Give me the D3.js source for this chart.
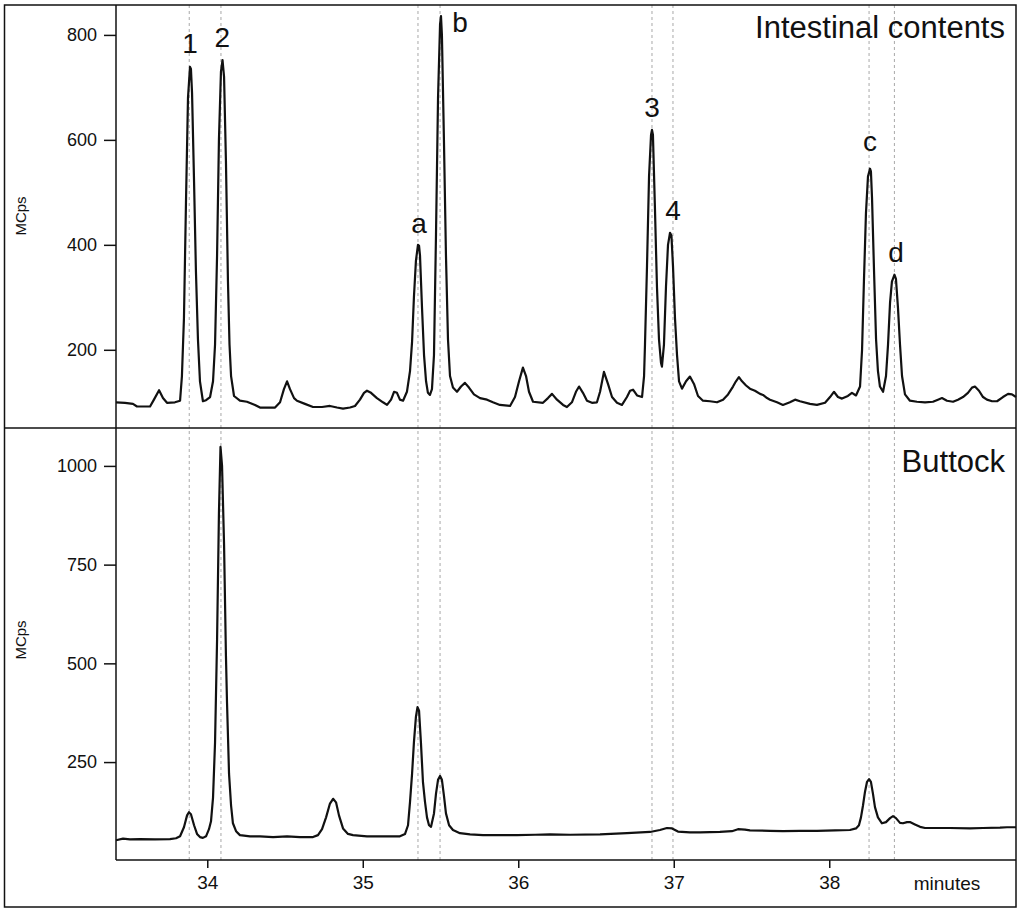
<html>
    <head>
        <title>Chromatograms</title>
        <script src="https://d3js.org/d3.v7.min.js"></script>
        <style>
            body {
                margin: 0;
                padding: 0;
                background: white;
            }
            text {
                font-family: "Liberation Sans", Arial, sans-serif;
                fill: #111;
            }
        </style>
    </head>
    <body>
        <svg id="chart" width="1018" height="909"></svg>
    </body>
    <script>
        // [minutes, MCps]
        const intestinalTrace = [
            [33.413,100],[33.471,99],[33.522,97],[33.548,92],[33.632,92],[33.657,105],[33.690,123],[33.715,108],
            [33.741,99],[33.792,100],[33.825,103],[33.837,150],[33.850,260],[33.863,480],[33.876,680],[33.889,739],
            [33.895,735],[33.902,690],[33.915,520],[33.927,350],[33.940,220],[33.953,140],[33.972,102],[33.992,104],
            [34.018,110],[34.037,140],[34.050,210],[34.063,380],[34.075,600],[34.088,730],[34.098,752],[34.108,720],
            [34.120,560],[34.133,330],[34.143,210],[34.153,150],[34.172,112],[34.210,103],[34.255,101],[34.307,95],
            [34.339,90],[34.436,90],[34.468,100],[34.493,125],[34.513,140],[34.532,125],[34.558,108],[34.577,103],
            [34.628,97],[34.680,91],[34.738,91],[34.789,93],[34.834,90],[34.873,88],[34.918,90],[34.950,93],
            [34.982,105],[35.008,118],[35.027,122],[35.053,118],[35.091,108],[35.130,100],[35.156,95],[35.182,105],
            [35.201,120],[35.220,118],[35.239,105],[35.259,103],[35.284,120],[35.304,160],[35.317,215],[35.329,300],
            [35.342,370],[35.355,400],[35.362,398],[35.368,380],[35.381,280],[35.394,190],[35.407,140],[35.419,118],
            [35.432,114],[35.445,125],[35.458,190],[35.471,420],[35.484,680],[35.497,820],[35.503,836],[35.509,800],
            [35.522,600],[35.535,380],[35.548,220],[35.561,150],[35.580,128],[35.606,120],[35.632,130],[35.657,137],
            [35.683,128],[35.715,115],[35.754,108],[35.799,105],[35.837,100],[35.882,95],[35.947,93],[35.979,110],
            [36.005,140],[36.030,166],[36.050,150],[36.069,120],[36.095,101],[36.159,99],[36.191,108],[36.217,116],
            [36.249,105],[36.288,95],[36.313,91],[36.345,100],[36.371,120],[36.391,130],[36.416,118],[36.442,103],
            [36.474,99],[36.506,100],[36.526,120],[36.551,158],[36.577,135],[36.603,110],[36.635,99],[36.667,95],
            [36.699,110],[36.719,122],[36.738,124],[36.764,113],[36.796,110],[36.809,150],[36.815,210],[36.828,360],
            [36.841,530],[36.854,610],[36.860,619],[36.866,610],[36.879,470],[36.892,320],[36.905,220],[36.918,175],
            [36.924,168],[36.937,210],[36.950,320],[36.963,400],[36.976,423],[36.985,418],[36.995,360],[37.008,260],
            [37.021,190],[37.034,140],[37.053,126],[37.079,140],[37.104,149],[37.130,135],[37.156,112],[37.188,103],
            [37.233,102],[37.278,100],[37.317,105],[37.349,115],[37.381,130],[37.400,140],[37.419,148],[37.439,140],
            [37.465,132],[37.490,126],[37.522,122],[37.555,116],[37.574,114],[37.600,108],[37.619,105],[37.664,100],
            [37.702,95],[37.747,100],[37.780,105],[37.812,102],[37.876,97],[37.921,95],[37.973,99],[38.005,110],
            [38.030,120],[38.056,110],[38.082,107],[38.120,112],[38.146,118],[38.172,113],[38.198,130],[38.211,200],
            [38.223,330],[38.236,460],[38.249,530],[38.262,545],[38.268,540],[38.275,490],[38.288,350],[38.301,220],
            [38.313,160],[38.326,130],[38.346,120],[38.365,150],[38.378,210],[38.391,290],[38.403,330],[38.419,343],
            [38.429,335],[38.442,280],[38.455,210],[38.468,150],[38.487,115],[38.519,103],[38.564,101],[38.616,100],
            [38.667,101],[38.699,105],[38.725,108],[38.757,103],[38.796,101],[38.828,105],[38.860,110],[38.892,118],
            [38.918,128],[38.937,130],[38.963,122],[38.989,110],[39.014,105],[39.047,102],[39.079,102],[39.117,110],
            [39.150,116],[39.175,115],[39.201,110]
        ];

        const buttockTrace = [
            [33.413,52],[33.458,56],[33.503,54],[33.567,55],[33.664,54],[33.760,55],[33.799,57],[33.825,62],
            [33.850,85],[33.870,115],[33.882,123],[33.895,118],[33.915,90],[33.934,68],[33.953,60],[33.972,58],
            [33.992,62],[34.011,80],[34.024,100],[34.037,160],[34.050,300],[34.063,560],[34.075,880],[34.085,1048],
            [34.095,1000],[34.108,800],[34.120,520],[34.127,400],[34.140,220],[34.153,140],[34.165,95],[34.185,75],
            [34.210,65],[34.275,62],[34.339,62],[34.423,60],[34.513,62],[34.596,60],[34.680,60],[34.712,65],
            [34.738,80],[34.764,110],[34.789,145],[34.809,157],[34.828,148],[34.847,115],[34.873,82],[34.905,68],
            [34.937,65],[35.027,62],[35.143,62],[35.239,62],[35.272,68],[35.291,90],[35.304,150],[35.317,220],
            [35.329,300],[35.342,365],[35.352,389],[35.362,380],[35.374,300],[35.387,200],[35.400,150],[35.413,110],
            [35.426,90],[35.439,86],[35.458,120],[35.471,170],[35.484,205],[35.497,215],[35.509,205],[35.522,165],
            [35.535,120],[35.555,90],[35.580,78],[35.625,70],[35.690,67],[35.773,65],[35.882,65],[35.992,65],
            [36.108,66],[36.204,67],[36.333,66],[36.526,67],[36.699,70],[36.847,73],[36.911,78],[36.956,83],
            [36.989,82],[37.027,74],[37.104,72],[37.169,72],[37.297,73],[37.374,75],[37.413,80],[37.458,79],
            [37.490,77],[37.619,76],[37.702,75],[37.812,76],[37.921,76],[38.037,77],[38.133,78],[38.172,82],
            [38.191,90],[38.204,110],[38.217,140],[38.230,175],[38.243,200],[38.256,207],[38.268,200],[38.281,170],
            [38.294,136],[38.313,110],[38.339,95],[38.365,98],[38.391,108],[38.410,113],[38.429,108],[38.455,96],
            [38.474,95],[38.500,98],[38.519,98],[38.551,92],[38.584,86],[38.616,83],[38.712,83],[38.776,83],
            [38.905,82],[38.989,83],[39.098,84],[39.143,85],[39.201,85]
        ];

        const markerTimes = [33.884, 34.088, 35.355, 35.497, 36.860, 36.995, 38.256, 38.419];
        const peakLabels = ["1", "2", "a", "b", "3", "4", "c", "d"];
        const peakLabelTimes = [33.889, 34.096, 35.362, 35.625, 36.860, 36.995, 38.262, 38.429];
        const peakLabelValues = [765, 777, 423, 805, 644, 447, 579, 367];

        const timeTicks = [34, 35, 36, 37, 38];
        const topTicks = [200, 400, 600, 800];
        const bottomTicks = [250, 500, 750, 1000];

        const svg = d3.select("#chart");

        const padLeft = 116, padRight = 1016, padTop = 5, padMid = 428, padBottom = 860;

        const x = d3.scaleLinear().domain([33.413, 39.201]).range([padLeft, padRight]);
        const yTop = d3.scaleLinear().domain([51, 857]).range([padMid, padTop]);
        const yBot = d3.scaleLinear().domain([2, 1096]).range([padBottom, padMid]);

        // dashed marker lines through both panels
        svg.selectAll("line.marker").data(markerTimes)
            .join("line")
            .attr("class", "marker")
            .attr("x1", d => x(d)).attr("x2", d => x(d))
            .attr("y1", padTop).attr("y2", padBottom)
            .attr("stroke", "#a8a8a8")
            .attr("stroke-width", 1)
            .attr("stroke-dasharray", "3,3");

        const lineTop = d3.line().x(d => x(d[0])).y(d => yTop(d[1]));
        const lineBot = d3.line().x(d => x(d[0])).y(d => yBot(d[1]));

        svg.append("path").datum(intestinalTrace)
            .attr("d", lineTop)
            .attr("fill", "none")
            .attr("stroke", "#111")
            .attr("stroke-width", 2.2)
            .attr("stroke-linejoin", "round");

        svg.append("path").datum(buttockTrace)
            .attr("d", lineBot)
            .attr("fill", "none")
            .attr("stroke", "#111")
            .attr("stroke-width", 2.2)
            .attr("stroke-linejoin", "round");

        // axes
        const fmt = d3.format("d");
        const axisTop = svg.append("g")
            .attr("transform", "translate(" + padLeft + ",0)")
            .call(d3.axisLeft(yTop).tickValues(topTicks).tickFormat(fmt).tickSize(12).tickPadding(7));
        const axisBot = svg.append("g")
            .attr("transform", "translate(" + padLeft + ",0)")
            .call(d3.axisLeft(yBot).tickValues(bottomTicks).tickFormat(fmt).tickSize(12).tickPadding(7));
        const axisX = svg.append("g")
            .attr("transform", "translate(0," + padBottom + ")")
            .call(d3.axisBottom(x).tickValues(timeTicks).tickFormat(fmt).tickSize(8).tickPadding(8));

        [axisTop, axisBot, axisX].forEach(g => {
            g.select(".domain").remove();
            g.selectAll(".tick line").attr("stroke", "#111").attr("stroke-width", 1.5);
            g.selectAll(".tick text")
                .attr("font-size", 18)
                .attr("font-family", "Liberation Sans, Arial, sans-serif")
                .attr("fill", "#111");
        });
        axisX.selectAll(".tick text").attr("font-size", 19);

        // frame, divider and axis lines
        svg.append("rect")
            .attr("x", 4.5).attr("y", 5)
            .attr("width", padRight - 4.5).attr("height", 902)
            .attr("fill", "none").attr("stroke", "#111").attr("stroke-width", 1.5);
        svg.append("line")
            .attr("x1", 4.5).attr("x2", padRight).attr("y1", padMid).attr("y2", padMid)
            .attr("stroke", "#111").attr("stroke-width", 1.5);
        svg.append("line")
            .attr("x1", padLeft).attr("x2", padLeft).attr("y1", padTop).attr("y2", padBottom)
            .attr("stroke", "#111").attr("stroke-width", 1.5);
        svg.append("line")
            .attr("x1", padLeft).attr("x2", padRight).attr("y1", padBottom).attr("y2", padBottom)
            .attr("stroke", "#111").attr("stroke-width", 1.5);

        // labels
        svg.append("text")
            .attr("x", 947).attr("y", 890)
            .attr("text-anchor", "middle")
            .attr("font-size", 19)
            .text("minutes");

        [[216, "MCps"], [640, "MCps"]].forEach(d => {
            svg.append("text")
                .attr("transform", "translate(26," + d[0] + ") rotate(-90)")
                .attr("text-anchor", "middle")
                .attr("font-size", 15)
                .text(d[1]);
        });

        svg.append("text")
            .attr("x", 1005).attr("y", 38)
            .attr("text-anchor", "end")
            .attr("font-size", 31)
            .text("Intestinal contents");
        svg.append("text")
            .attr("x", 1005).attr("y", 472)
            .attr("text-anchor", "end")
            .attr("font-size", 31)
            .text("Buttock");

        svg.selectAll("text.peak").data(peakLabels)
            .join("text")
            .attr("class", "peak")
            .attr("x", (d, i) => x(peakLabelTimes[i]))
            .attr("y", (d, i) => yTop(peakLabelValues[i]))
            .attr("text-anchor", "middle")
            .attr("font-size", 28)
            .text(d => d);
    </script>
</html>
